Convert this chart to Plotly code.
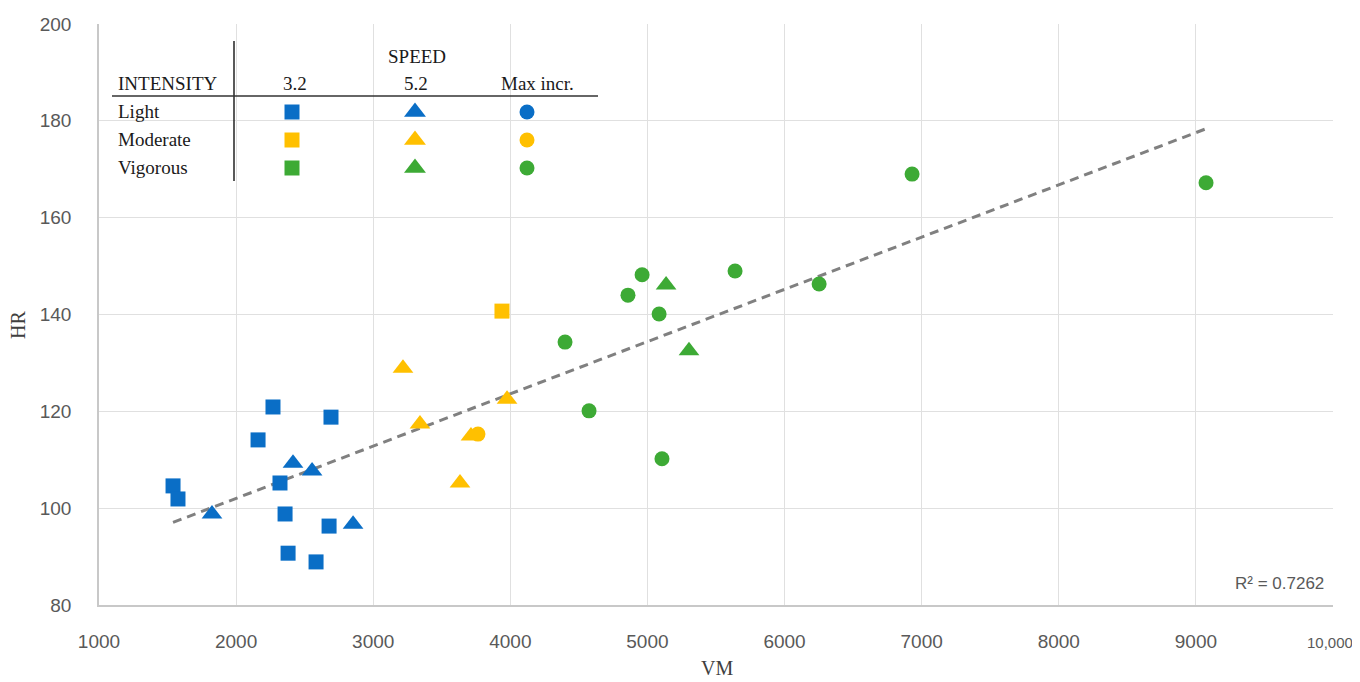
import numpy as np
import plotly.graph_objects as go

# ---- data (VM, HR) ----
light_32_vm = [2269, 2692, 2160, 1540, 1576, 2320, 2357, 2678, 2379, 2583]
light_32_hr = [120.9, 118.8, 114.1, 104.6, 101.9, 105.2, 98.8, 96.3, 90.7, 88.9]
light_52_vm = [2415, 2554, 1824, 2853]
light_52_hr = [109.3, 107.7, 98.8, 96.7]
mod_32_vm = [3939]
mod_32_hr = [140.7]
mod_52_vm = [3217, 3976, 3341, 3713, 3633]
mod_52_hr = [128.9, 122.5, 117.4, 114.9, 105.2]
mod_max_vm = [3764]
mod_max_hr = [115.3]
vig_52_vm = [5136, 5303]
vig_52_hr = [146.1, 132.5]
vig_max_vm = [4961, 4858, 5085, 4399, 4574, 5106, 5639, 6252, 6930, 9074]
vig_max_hr = [148.2, 144.0, 140.1, 134.3, 120.1, 110.2, 149.0, 146.3, 169.0, 167.2]

x_ticks = [1000, 2000, 3000, 4000, 5000, 6000, 7000, 8000, 9000, 10000]
x_ticktext = ["1000", "2000", "3000", "4000", "5000", "6000", "7000", "8000", "9000", ""]
y_ticks = [80, 100, 120, 140, 160, 180, 200]
r2_label = "R² = 0.7262"

BLUE = "#0A6EC6"
YELLOW = "#FFC000"
GREEN = "#3DAA35"

OFF = 8  # page body margin
W, H = 1360 - OFF, 682 - OFF
# plot area edges in screen pixels
L, R, T, B = 99, 1333, 24, 605


def px(x):
    return (x - L) / (R - L)


def py(y):
    return (B - y) / (B - T)


fig = go.Figure()

series = [
    (light_32_vm, light_32_hr, BLUE, "square", 15),
    (light_52_vm, light_52_hr, BLUE, "triangle-up", 18),
    (mod_32_vm, mod_32_hr, YELLOW, "square", 15),
    (mod_52_vm, mod_52_hr, YELLOW, "triangle-up", 18),
    (mod_max_vm, mod_max_hr, YELLOW, "circle", 15),
    (vig_52_vm, vig_52_hr, GREEN, "triangle-up", 18),
    (vig_max_vm, vig_max_hr, GREEN, "circle", 15),
]

all_x, all_y = [], []
for xs, ys, c, sym, sz in series:
    all_x += xs
    all_y += ys

# trendline (linear least squares over all points)
ax_, ay_ = np.array(all_x, float), np.array(all_y, float)
slope, icpt = np.polyfit(ax_, ay_, 1)
tx = np.array([ax_.min(), ax_.max()])
fig.add_trace(go.Scatter(x=tx, y=slope * tx + icpt, mode="lines",
                         line=dict(color="#808080", width=3, dash="9px,6px"),
                         showlegend=False, hoverinfo="skip"))

for xs, ys, c, sym, sz in series:
    fig.add_trace(go.Scatter(x=xs, y=ys, mode="markers",
                             marker=dict(color=c, symbol=sym, size=sz, line=dict(width=0)),
                             showlegend=False))

# ---- legend table ----
rows = ["Light", "Moderate", "Vigorous"]
row_colors = [BLUE, YELLOW, GREEN]
row_y = [112, 140, 168]
col_x = [292, 415, 527]
col_sym = ["square", "triangle-up", "circle"]
col_size = [15, 19, 15]
for ci in range(3):
    fig.add_trace(go.Scatter(
        x=[px(col_x[ci])] * 3, y=[py(v) for v in row_y], mode="markers",
        marker=dict(color=row_colors, symbol=col_sym[ci], size=col_size[ci], line=dict(width=0)),
        xaxis="x2", yaxis="y2", showlegend=False, hoverinfo="skip"))

serif = "Liberation Serif"
tcol = "#1a1a1a"
ann = []


def txt(x, y, s, xanchor="center", size=19, color=tcol, family=serif, **kw):
    ann.append(dict(x=px(x), y=py(y), xref="paper", yref="paper", text=s, showarrow=False,
                    xanchor=xanchor, yanchor="middle",
                    font=dict(family=family, size=size, color=color), **kw))


txt(417, 56, "SPEED")
txt(116, 83, "INTENSITY", xanchor="left")
txt(295, 83, "3.2")
txt(416, 83, "5.2")
txt(537, 83, "Max incr.")
for name, yy in zip(rows, row_y):
    txt(116, yy - 1, name, xanchor="left")

# R2 label
txt(1326, 583, r2_label, xanchor="right", size=17, color="#595959", family="Liberation Sans")
# 10,000 label
txt(1330, 642, "10,000", size=15, color="#595959", family="Liberation Sans")
# axis titles
txt(18, 325, "HR", size=20, color="#404040", textangle=-90)
txt(717, 668, "VM", size=20, color="#404040")

shapes = [
    dict(type="rect", xref="paper", yref="paper", x0=px(103), x1=px(600), y0=py(186), y1=py(38),
         fillcolor="white", line=dict(width=0), layer="between"),
    dict(type="line", xref="paper", yref="paper", x0=px(234), x1=px(234), y0=py(41), y1=py(181),
         line=dict(color="#222222", width=1.5)),
    dict(type="line", xref="paper", yref="paper", x0=px(112), x1=px(598), y0=py(96), y1=py(96),
         line=dict(color="#333333", width=1.5)),
]

fig.update_layout(
    width=W, height=H,
    margin=dict(l=L - OFF, r=1360 - R, t=T - OFF, b=682 - B, autoexpand=False),
    paper_bgcolor="white", plot_bgcolor="white",
    showlegend=False,
    annotations=ann, shapes=shapes,
    xaxis=dict(range=[1000, 10000], tickvals=x_ticks, ticktext=x_ticktext,
               showgrid=True, gridcolor="#e0e0e0", gridwidth=1,
               showline=True, linecolor="#c8c8c8", linewidth=1.5,
               zeroline=False, ticks="", ticklabelstandoff=18,
               tickfont=dict(family="Liberation Sans", size=19, color="#595959")),
    yaxis=dict(range=[80, 200], tickvals=y_ticks,
               showgrid=True, gridcolor="#e0e0e0", gridwidth=1,
               showline=True, linecolor="#c8c8c8", linewidth=1.5,
               zeroline=False, ticks="", ticklabelstandoff=22,
               tickfont=dict(family="Liberation Sans", size=19, color="#595959")),
    xaxis2=dict(range=[0, 1], overlaying="x", visible=False, fixedrange=True),
    yaxis2=dict(range=[0, 1], overlaying="y", visible=False, fixedrange=True),
)

fig.write_html("out.html")
